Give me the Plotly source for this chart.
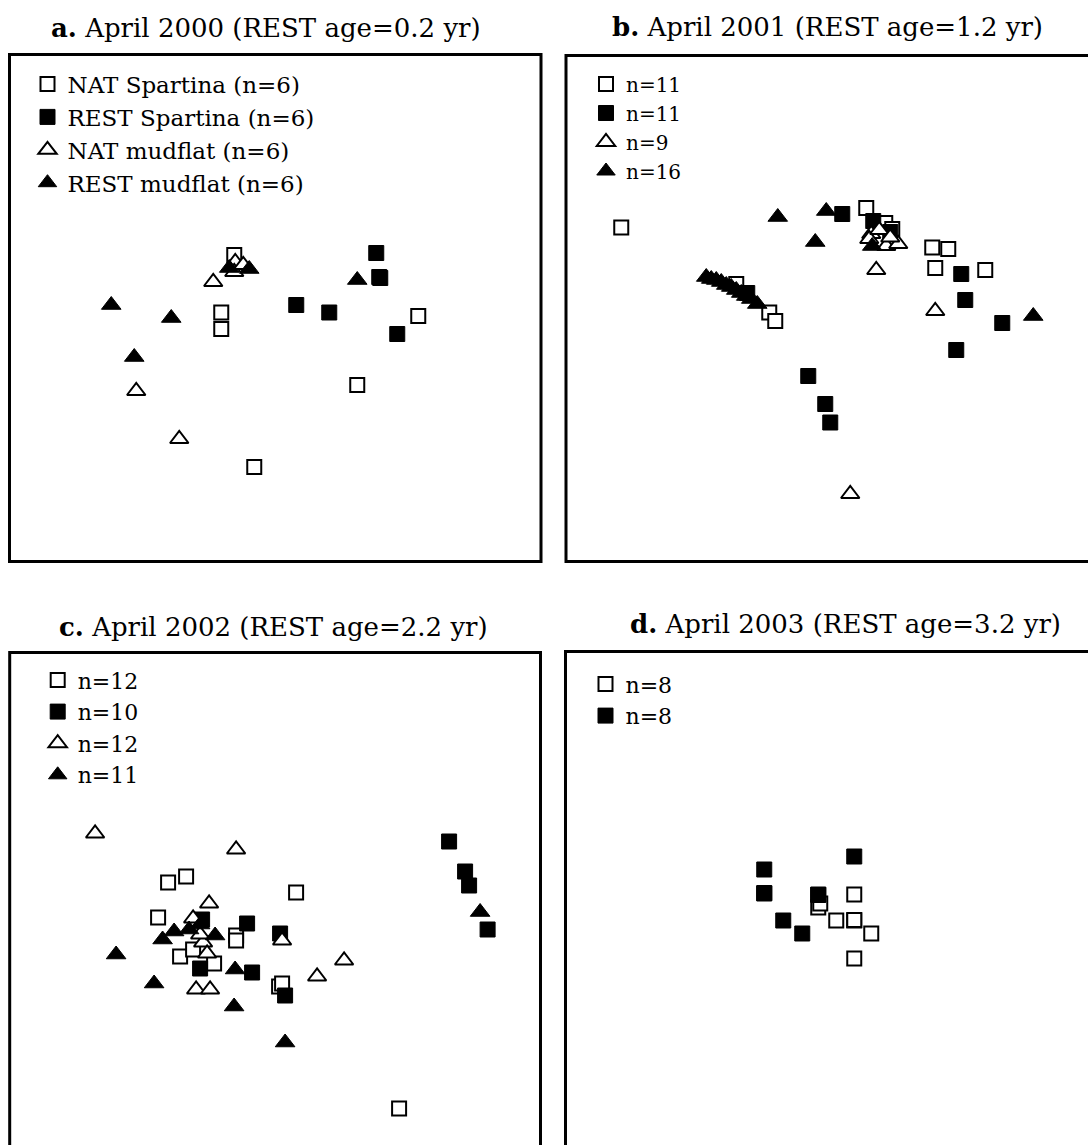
import plotly.graph_objects as go

W, H = 1088, 1145
FONT = "DejaVu Serif"

# ---------------- data (NMDS scores) ----------------
# Panel a: April 2000
a_labels = ["NAT Spartina (n=6)", "REST Spartina (n=6)", "NAT mudflat (n=6)", "REST mudflat (n=6)"]
a_nat_sp_x = [-0.41, -0.54, -0.54, 1.43, 0.82, -0.21]
a_nat_sp_y = [0.53, -0.045, -0.21, -0.08, -0.77, -1.59]
a_rest_sp_x = [1.01, 1.05, 0.21, 0.54, 1.22, 1.04]
a_rest_sp_y = [0.55, 0.30, 0.03, -0.045, -0.26, 0.31]
a_nat_mud_x = [-0.62, -1.39, -0.96, -0.40, -0.41, -0.32]
a_nat_mud_y = [0.26, -0.83, -1.31, 0.46, 0.36, 0.43]
a_rest_mud_x = [-1.64, -1.04, -1.41, 0.82, -0.46, -0.26]
a_rest_mud_y = [0.03, -0.10, -0.49, 0.28, 0.40, 0.39]

# Panel b: April 2001
b_labels = ["n=11", "n=11", "n=9", "n=16"]
b_nat_sp_x = [-2.105, 0.345, 0.535, 1.005, 1.165, 1.035, 1.535, -0.955, -0.625, -0.565, 0.605]
b_nat_sp_y = [0.81, 1.005, 0.855, 0.61, 0.595, 0.405, 0.385, 0.245, -0.04, -0.125, 0.795]
b_rest_sp_x = [0.105, 0.415, 0.585, 1.295, 1.335, 1.705, 1.245, -0.235, -0.065, -0.015, -0.845]
b_rest_sp_y = [0.945, 0.875, 0.765, 0.345, 0.085, -0.145, -0.415, -0.675, -0.955, -1.14, 0.155]
b_nat_mud_x = [0.395, 0.545, 0.665, 0.445, 1.035, 0.185, 0.375, 0.475, 0.585]
b_nat_mud_y = [0.745, 0.625, 0.645, 0.385, -0.025, -1.855, 0.695, 0.785, 0.71]
b_rest_mud_x = [-0.54, -0.055, -0.165, 0.405, 2.015, -1.255, -1.205, -1.155, -1.105, -1.055,
                -1.005, -0.955, -0.905, -0.855, -0.805, -0.745]
b_rest_mud_y = [0.915, 0.975, 0.665, 0.625, -0.075, 0.315, 0.295, 0.285, 0.265, 0.235,
                0.215, 0.185, 0.155, 0.125, 0.095, 0.045]

# Panel c: April 2002
c_labels = ["n=12", "n=10", "n=12", "n=11"]
c_nat_sp_x = [-1.07, -0.89, 0.21, -1.17, -0.39, -0.39, -0.95, -0.82, -0.61, 0.04, 0.07, 1.24]
c_nat_sp_y = [0.235, 0.295, 0.135, -0.115, -0.295, -0.345, -0.505, -0.435, -0.575, -0.805, -0.775, -2.025]
c_rest_sp_x = [1.74, 1.90, 1.94, 2.125, -0.28, 0.05, -0.75, -0.23, 0.10, -0.73]
c_rest_sp_y = [0.645, 0.345, 0.205, -0.235, -0.175, -0.275, -0.625, -0.665, -0.895, -0.135]
c_nat_mud_x = [-1.80, -0.39, -0.66, -0.82, -0.72, -0.68, -0.79, -0.65, 0.07, 0.42, 0.69, -0.75]
c_nat_mud_y = [0.725, 0.565, 0.025, -0.125, -0.365, -0.475, -0.835, -0.835, -0.345, -0.705, -0.545, -0.285]
c_rest_mud_x = [-1.59, -1.125, -1.01, -0.86, -0.60, -1.21, -0.40, -0.41, 0.10, 2.05, -0.75]
c_rest_mud_y = [-0.485, -0.335, -0.255, -0.235, -0.295, -0.775, -0.635, -1.005, -1.365, -0.06, -0.185]

# Panel d: April 2003
d_labels = ["n=8", "n=8"]
d_nat_sp_x = [0.23, -0.13, 0.05, 0.23, 0.40, 0.23, -0.11, 0.23]
d_nat_sp_y = [0.105, -0.025, -0.155, -0.155, -0.285, -0.535, 0.015, -0.15]
d_rest_sp_x = [0.23, -0.67, -0.67, -0.13, -0.48, -0.29, -0.13, -0.67]
d_rest_sp_y = [0.485, 0.355, 0.115, 0.105, -0.155, -0.285, 0.10, 0.12]

titles = ["<b>a.</b> April 2000 (REST age=0.2 yr)",
          "<b>b.</b> April 2001 (REST age=1.2 yr)",
          "<b>c.</b> April 2002 (REST age=2.2 yr)",
          "<b>d.</b> April 2003 (REST age=3.2 yr)"]

# ---------------- layout geometry (pixels) ----------------
# frame boxes: left, top, right, bottom (b, d, c extend past the page edge)
frames = [(9.5, 54.5, 541.0, 561.5),
          (566.0, 55.5, 1097.5, 561.5),
          (9.7, 652.5, 540.5, 1159.5),
          (565.5, 651.5, 1097.0, 1158.5)]
title_pos = [(266, 28), (827, 27), (273, 627), (845, 624)]
legend_font = [23, 20, 22, 22]
legend_first_row = [29.5, 28.5, 27.5, 32.5]   # offset of first legend row below frame top
legend_dx = [18, 20, 28, 20]
UNIT = 100.0  # pixels per NMDS unit

styles = [
    dict(symbol="square", size=14, color="white", line=dict(color="black", width=2)),
    dict(symbol="square", size=15, color="black", line=dict(color="black", width=1)),
    dict(symbol="triangle-up", size=16, color="white", line=dict(color="black", width=2)),
    dict(symbol="triangle-up", size=17, color="black", line=dict(color="black", width=1)),
]

panels = [
    (a_labels, [(a_nat_sp_x, a_nat_sp_y), (a_rest_sp_x, a_rest_sp_y),
                (a_nat_mud_x, a_nat_mud_y), (a_rest_mud_x, a_rest_mud_y)]),
    (b_labels, [(b_nat_sp_x, b_nat_sp_y), (b_rest_sp_x, b_rest_sp_y),
                (b_nat_mud_x, b_nat_mud_y), (b_rest_mud_x, b_rest_mud_y)]),
    (c_labels, [(c_nat_sp_x, c_nat_sp_y), (c_rest_sp_x, c_rest_sp_y),
                (c_nat_mud_x, c_nat_mud_y), (c_rest_mud_x, c_rest_mud_y)]),
    (d_labels, [(d_nat_sp_x, d_nat_sp_y), (d_rest_sp_x, d_rest_sp_y)]),
]

fig = go.Figure()
layout = dict(width=W, height=H, margin=dict(l=0, r=0, t=0, b=0),
              paper_bgcolor="white", plot_bgcolor="rgba(0,0,0,0)",
              showlegend=True, shapes=[], annotations=[])

for i, ((labels, series), (L, T, R, B)) in enumerate(zip(panels, frames)):
    k = "" if i == 0 else str(i + 1)
    cx, cy = (L + R) / 2, (T + B) / 2
    vis_L, vis_R = max(L, 0), min(R, W)
    vis_T, vis_B = max(T, 0), min(B, H)
    layout["xaxis" + k] = dict(domain=[vis_L / W, vis_R / W],
                               range=[(vis_L - cx) / UNIT, (vis_R - cx) / UNIT],
                               visible=False, fixedrange=True)
    layout["yaxis" + k] = dict(domain=[1 - vis_B / H, 1 - vis_T / H],
                               range=[(cy - vis_B) / UNIT, (cy - vis_T) / UNIT],
                               visible=False, fixedrange=True)
    leg = "legend" + k
    for lab, (xs, ys), st in zip(labels, series, styles):
        fig.add_trace(go.Scatter(x=xs, y=ys, mode="markers", name=lab,
                                 marker=st, xaxis="x" + k, yaxis="y" + k,
                                 legend=leg, cliponaxis=False, hoverinfo="skip"))
    fs = legend_font[i]
    item_h = fs * 1.3 + 3
    top_px = T + legend_first_row[i] - item_h / 2 - 5
    layout[leg] = dict(x=(L + legend_dx[i]) / W, xanchor="left",
                       y=1 - top_px / H, yanchor="top",
                       bgcolor="rgba(0,0,0,0)", borderwidth=0,
                       font=dict(family=FONT, size=fs, color="black"),
                       itemsizing="trace", tracegroupgap=0, itemclick=False)
    layout["shapes"].append(dict(type="rect", xref="paper", yref="paper",
                                 x0=L / W, x1=R / W, y0=1 - B / H, y1=1 - T / H,
                                 line=dict(color="black", width=3)))
    tx, ty = title_pos[i]
    layout["annotations"].append(dict(text=titles[i], xref="paper", yref="paper",
                                      x=tx / W, y=1 - ty / H, xanchor="center",
                                      yanchor="middle", showarrow=False,
                                      font=dict(family=FONT, size=26, color="black")))

fig.update_layout(**layout)
fig.write_html("out.html")
